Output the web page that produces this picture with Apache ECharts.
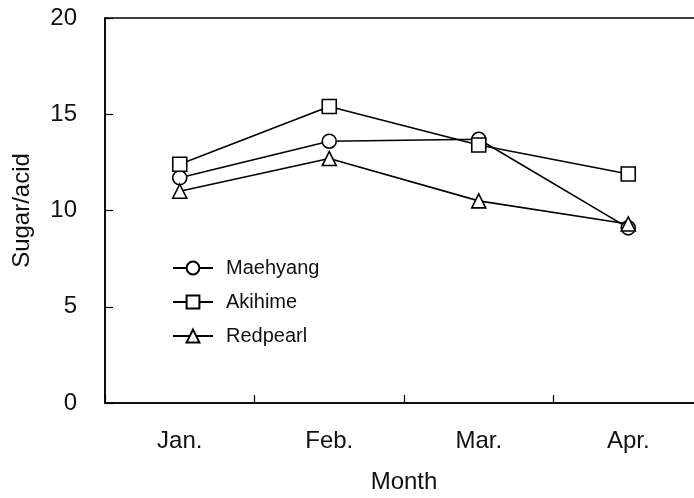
<!DOCTYPE html>
<html>
<head>
<meta charset="utf-8">
<script src="https://cdn.jsdelivr.net/npm/echarts@6/dist/echarts.min.js"></script>
<style>
  html, body { margin: 0; padding: 0; background: #fff; }
  #chart { width: 694px; height: 498px; }
</style>
</head>
<body>
<div id="chart"></div>
<script>
// Sugar/acid ratio by month for three cultivars
var months = ['Jan.', 'Feb.', 'Mar.', 'Apr.'];
var maehyang = [11.7, 13.6, 13.7, 9.1];
var akihime  = [12.4, 15.4, 13.4, 11.9];
var redpearl = [11.0, 12.7, 10.5, 9.3];
var yTicks = [0, 5, 10, 15, 20];

var FONT = 'Liberation Sans, Arial, sans-serif';

function makeSeries(name, data, symbol) {
  return {
    name: name,
    type: 'line',
    data: data,
    symbol: symbol,
    symbolSize: 14,
    showAllSymbol: true,
    lineStyle: { color: '#000', width: 1.6 },
    itemStyle: { color: '#fff', borderColor: '#000', borderWidth: 1.6 },
    emphasis: { disabled: true }
  };
}

var chart = echarts.init(document.getElementById('chart'), null, { renderer: 'canvas' });
chart.setOption({
  animation: false,
  backgroundColor: '#fff',
  grid: {
    left: 105, top: 18, bottom: 95, right: -9,
    outerBoundsMode: 'none',
    containLabel: false,
    show: true, borderColor: '#000', borderWidth: 1.5, backgroundColor: 'transparent'
  },
  legend: {
    orient: 'vertical',
    left: 167, top: 253,
    itemWidth: 40, itemHeight: 16, itemGap: 14,
    textStyle: { fontFamily: FONT, fontSize: 20, color: '#111', padding: [0, 0, 0, 8] },
    data: ['Maehyang', 'Akihime', 'Redpearl']
  },
  xAxis: {
    type: 'category',
    data: months,
    boundaryGap: true,
    name: 'Month',
    nameLocation: 'middle',
    nameGap: 67,
    nameTextStyle: { fontFamily: FONT, fontSize: 24, color: '#111' },
    axisLine: { lineStyle: { color: '#000', width: 1.5 } },
    axisTick: { show: true, inside: true, length: 8, lineStyle: { color: '#000', width: 1.2 } },
    axisLabel: { fontFamily: FONT, fontSize: 24, color: '#111', margin: 26 },
    splitLine: { show: false }
  },
  yAxis: {
    type: 'value',
    min: yTicks[0],
    max: yTicks[yTicks.length - 1],
    interval: 5,
    name: 'Sugar/acid',
    nameLocation: 'middle',
    nameGap: 71,
    nameTextStyle: { fontFamily: FONT, fontSize: 24, color: '#111' },
    axisLine: { show: true, lineStyle: { color: '#000', width: 1.5 } },
    axisTick: { show: true, inside: true, length: 8, lineStyle: { color: '#000', width: 1.2 } },
    axisLabel: { fontFamily: FONT, fontSize: 24, color: '#111', margin: 28 },
    splitLine: { show: false }
  },
  series: [
    makeSeries('Maehyang', maehyang, 'circle'),
    makeSeries('Akihime', akihime, 'rect'),
    makeSeries('Redpearl', redpearl, 'triangle')
  ]
});
</script>
</body>
</html>
